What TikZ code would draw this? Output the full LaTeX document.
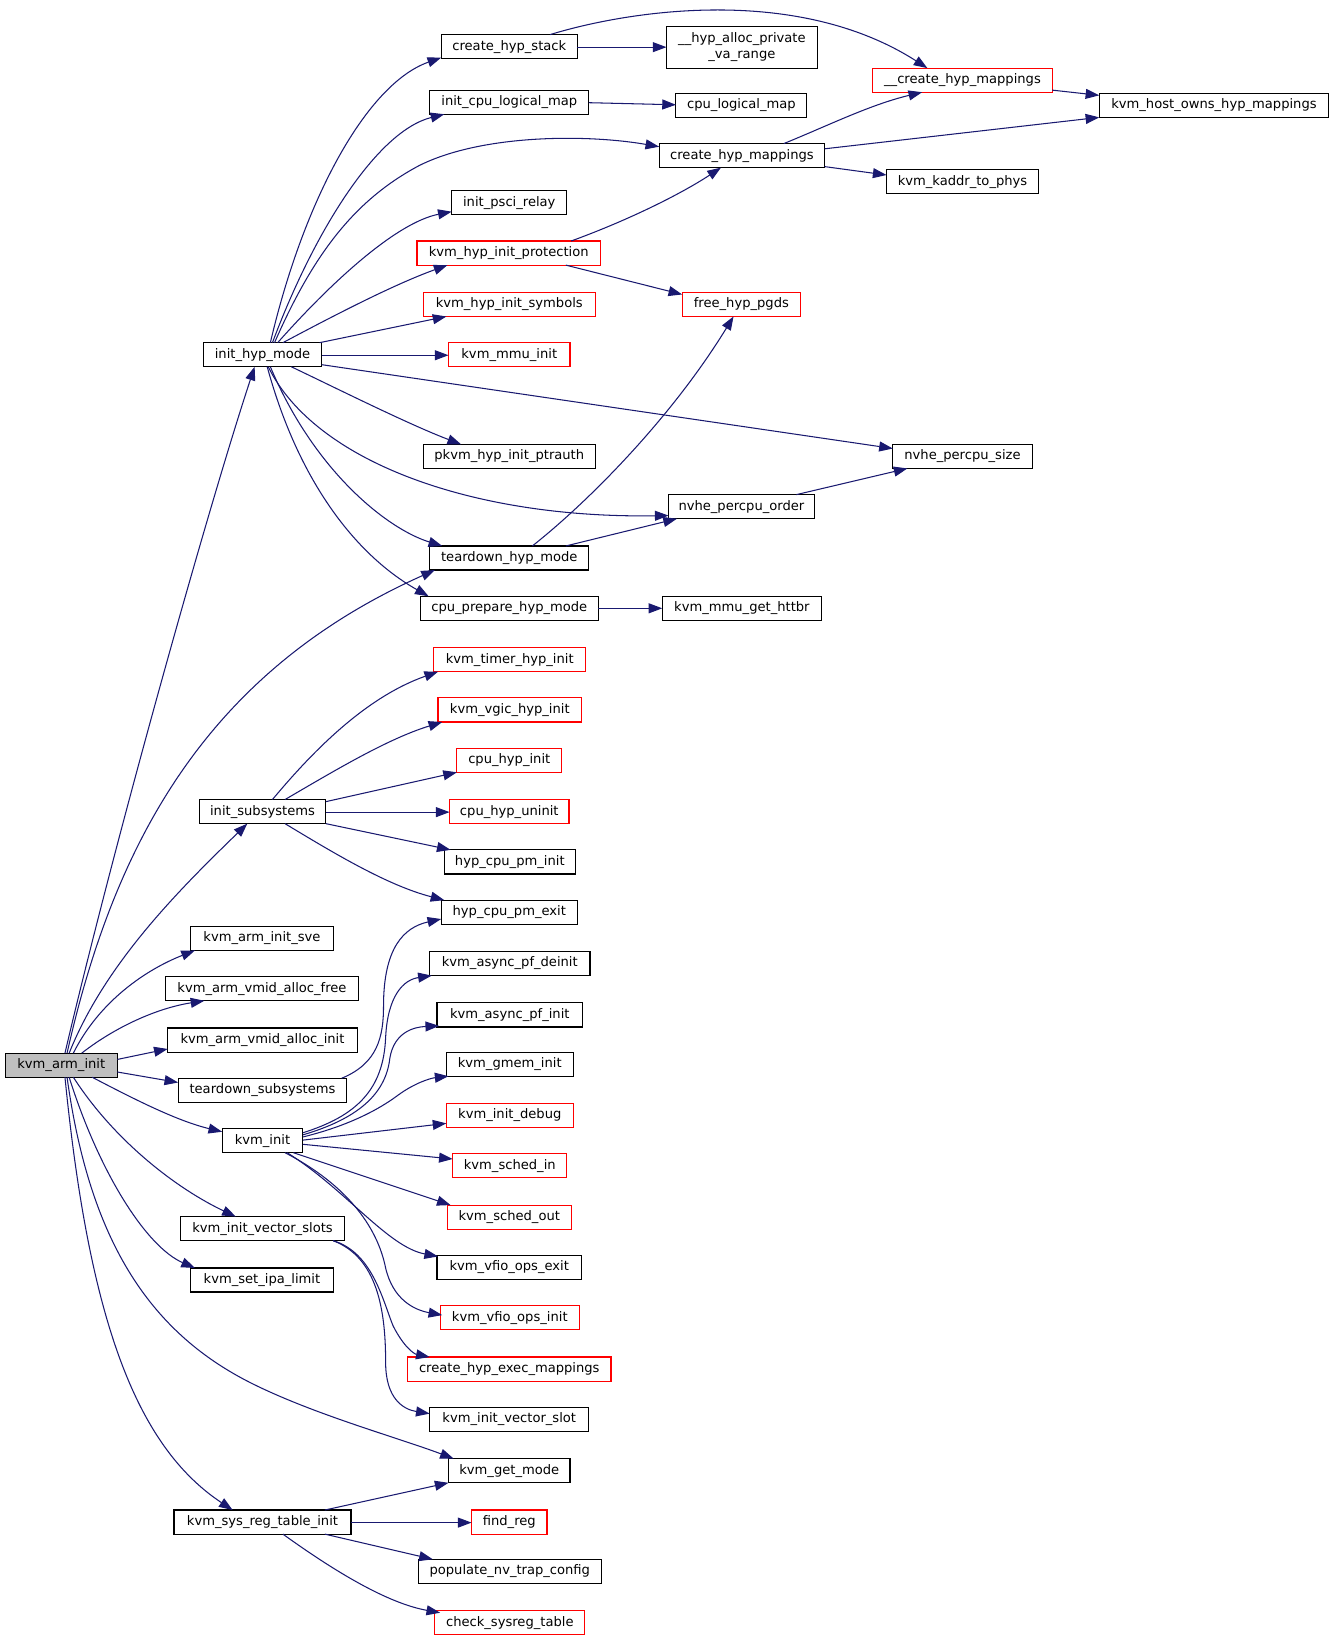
\documentclass[tikz,border=0pt]{standalone}
\usepackage{fontspec}
\setmainfont{DejaVu Sans}
\usetikzlibrary{arrows.meta,calc}
\definecolor{edgeblue}{RGB}{25,25,112}
\definecolor{boxred}{RGB}{255,0,0}
\definecolor{boxgray}{RGB}{191,191,191}
\newcommand{\fsz}{\fontsize{12.5}{14.5}\selectfont}
\tikzset{
  box/.style={draw=black, line width=1.1pt, inner sep=0pt, outer sep=0pt, minimum height=23pt, font=\fsz, anchor=north west, align=center},
  rbox/.style={box, draw=boxred},
  edge/.style={draw=edgeblue, line width=1pt, -{Triangle[length=13pt,width=9.5pt]}},
}
\begin{document}
\begin{tikzpicture}[x=1pt,y=-1pt]
\fill[white] (0,0) rectangle (1272,1566);
\useasboundingbox (0,0) rectangle (1272,1566);
% column 1
\node[box, fill=boxgray, minimum width=107] (kai) at (5,1005) {kvm\_arm\_init};
% column 2
\node[box, minimum width=113] (ihm) at (194,327) {init\_hyp\_mode};
\node[box, minimum width=121] (isub) at (190,763) {init\_subsystems};
\node[box, minimum width=136] (sve) at (182,884) {kvm\_arm\_init\_sve};
\node[box, minimum width=184] (vfree) at (158,932) {kvm\_arm\_vmid\_alloc\_free};
\node[box, minimum width=181] (vinit) at (160,981) {kvm\_arm\_vmid\_alloc\_init};
\node[box, minimum width=161] (tsub) at (170,1029) {teardown\_subsystems};
\node[box, minimum width=77] (kinit) at (212,1077) {kvm\_init};
\node[box, minimum width=157] (ivs) at (172,1161) {kvm\_init\_vector\_slots};
\node[box, minimum width=136] (ipa) at (182,1210) {kvm\_set\_ipa\_limit};
\node[box, minimum width=169] (srti) at (166,1441) {kvm\_sys\_reg\_table\_init};
% column 3
\node[box, minimum width=130] (chs) at (421,33) {create\_hyp\_stack};
\node[box, minimum width=152] (icl) at (410,86) {init\_cpu\_logical\_map};
\node[box, minimum width=110] (ipr) at (431,182) {init\_psci\_relay};
\node[rbox, minimum width=175] (hip) at (398,230) {kvm\_hyp\_init\_protection};
\node[rbox, minimum width=164] (his) at (404,279) {kvm\_hyp\_init\_symbols};
\node[rbox, minimum width=116] (mmu) at (428,327) {kvm\_mmu\_init};
\node[box, minimum width=164] (ptr) at (404,424) {pkvm\_hyp\_init\_ptrauth};
\node[box, minimum width=152] (thm) at (410,521) {teardown\_hyp\_mode};
\node[box, minimum width=170] (cph) at (401,569) {cpu\_prepare\_hyp\_mode};
\node[rbox, minimum width=145] (thi) at (414,618) {kvm\_timer\_hyp\_init};
\node[rbox, minimum width=137] (vgi) at (418,666) {kvm\_vgic\_hyp\_init};
\node[rbox, minimum width=100] (chi) at (436,714) {cpu\_hyp\_init};
\node[rbox, minimum width=114] (chu) at (429,763) {cpu\_hyp\_uninit};
\node[box, minimum width=125] (pmi) at (424,811) {hyp\_cpu\_pm\_init};
\node[box, minimum width=130] (pme) at (421,859) {hyp\_cpu\_pm\_exit};
\node[box, minimum width=153] (apd) at (410,908) {kvm\_async\_pf\_deinit};
\node[box, minimum width=139] (api) at (417,957) {kvm\_async\_pf\_init};
\node[box, minimum width=121] (gmi) at (426,1004) {kvm\_gmem\_init};
\node[rbox, minimum width=121] (idb) at (426,1053) {kvm\_init\_debug};
\node[rbox, minimum width=109] (sin) at (432,1101) {kvm\_sched\_in};
\node[rbox, minimum width=118] (sou) at (427,1150) {kvm\_sched\_out};
\node[box, minimum width=138] (vfe) at (417,1198) {kvm\_vfio\_ops\_exit};
\node[rbox, minimum width=133] (vfi) at (420,1246) {kvm\_vfio\_ops\_init};
\node[rbox, minimum width=194] (chem) at (389,1295) {create\_hyp\_exec\_mappings};
\node[box, minimum width=152] (ivsl) at (410,1343) {kvm\_init\_vector\_slot};
\node[box, minimum width=116] (gm) at (428,1392) {kvm\_get\_mode};
\node[rbox, minimum width=72] (fr) at (450,1441) {find\_reg};
\node[box, minimum width=175] (pnv) at (399,1488) {populate\_nv\_trap\_config};
\node[rbox, minimum width=143] (csr) at (415,1537) {check\_sysreg\_table};
% column 4
\node[box, minimum width=144, minimum height=40] (hap) at (636,25) {\_\_hyp\_alloc\_private\\\_va\_range};
\node[box, minimum width=125] (clm) at (645,89) {cpu\_logical\_map};
\node[box, minimum width=158] (chm) at (629,137) {create\_hyp\_mappings};
\node[rbox, minimum width=113] (fhp) at (651,279) {free\_hyp\_pgds};
\node[box, minimum width=139] (npo) at (638,472) {nvhe\_percpu\_order};
\node[box, minimum width=152] (mgh) at (632,569) {kvm\_mmu\_get\_httbr};
% column 5
\node[rbox, minimum width=171] (uchm) at (833,65) {\_\_create\_hyp\_mappings};
\node[box, minimum width=145] (kkp) at (846,162) {kvm\_kaddr\_to\_phys};
\node[box, minimum width=133] (nps) at (852,424) {nvhe\_percpu\_size};
% column 6
\node[box, minimum width=219] (khm) at (1049,89) {kvm\_host\_owns\_hyp\_mappings};

% edges from kvm_arm_init
\draw[edge] ($(kai.north west)+(57,0)$) .. controls (110,800) and (200,480) .. ($(ihm.north west)+(49,23)$);
\draw[edge] ($(kai.north west)+(59,0)$) .. controls (110,800) and (200,640) .. ($(thm.north west)+(5,23)$);
\draw[edge] ($(kai.north west)+(61,0)$) .. controls (100,920) and (170,850) .. ($(isub.north west)+(46,23)$);
\draw[edge] ($(kai.north west)+(65,0)$) .. controls (95,955) and (140,925) .. ($(sve.north west)+(4,23)$);
\draw[edge] ($(kai.north west)+(73,0)$) .. controls (110,980) and (150,962) .. ($(vfree.north west)+(37,23)$);
\draw[edge] ($(kai.north west)+(107,6)$) -- ($(vinit.north west)+(0,20)$);
\draw[edge] ($(kai.north west)+(107,18)$) -- ($(tsub.north west)+(0,4)$);
\draw[edge] ($(kai.north west)+(83,23)$) .. controls (130,1050) and (170,1070) .. ($(kinit.north west)+(0,3)$);
\draw[edge] ($(kai.north west)+(65,23)$) .. controls (110,1090) and (170,1135) .. ($(ivs.north west)+(53,0)$);
\draw[edge] ($(kai.north west)+(61,23)$) .. controls (95,1120) and (140,1190) .. ($(ipa.north west)+(4,0)$);
\draw[edge] ($(kai.north west)+(59,23)$) .. controls (85,1180) and (140,1270) .. (240,1320) .. controls (300,1350) and (380,1372) .. ($(gm.north west)+(5,0)$);
\draw[edge] ($(kai.north west)+(57,23)$) .. controls (85,1260) and (130,1380) .. ($(srti.north west)+(56,0)$);

% edges from init_hyp_mode
\draw[edge] ($(ihm.north west)+(64,0)$) .. controls (290,190) and (350,80) .. ($(chs.north west)+(0,22)$);
\draw[edge] ($(ihm.north west)+(66,0)$) .. controls (300,220) and (360,125) .. ($(icl.north west)+(14,23)$);
\draw[edge] ($(ihm.north west)+(68,0)$) .. controls (300,240) and (340,190) .. (400,158) .. controls (460,128) and (560,128) .. ($(chm.north west)+(0,3)$);
\draw[edge] ($(ihm.north west)+(71,0)$) .. controls (320,265) and (380,212) .. ($(ipr.north west)+(0,20)$);
\draw[edge] ($(ihm.north west)+(76,0)$) .. controls (330,295) and (380,270) .. ($(hip.north west)+(29,23)$);
\draw[edge] ($(ihm.north west)+(111,0)$) -- ($(his.north west)+(22,23)$);
\draw[edge] ($(ihm.north west)+(113,12)$) -- ($(mmu.north west)+(0,12)$);
\draw[edge] ($(ihm.north west)+(84,23)$) .. controls (320,370) and (390,405) .. ($(ptr.north west)+(36,0)$);
\draw[edge] ($(ihm.north west)+(113,21)$) -- ($(nps.north west)+(0,4)$);
\draw[edge] ($(ihm.north west)+(62,23)$) .. controls (300,440) and (450,495) .. ($(npo.north west)+(0,20)$);
\draw[edge] ($(ihm.north west)+(64,23)$) .. controls (300,450) and (370,505) .. ($(thm.north west)+(12,0)$);
\draw[edge] ($(ihm.north west)+(61,23)$) .. controls (285,460) and (340,530) .. ($(cph.north west)+(8,0)$);

% column 3 to 4/5/6
\draw[edge] ($(chs.north west)+(130,12)$) -- ($(hap.north west)+(0,20)$);
\draw[edge] ($(chs.north west)+(104,0)$) .. controls (600,10) and (760,-15) .. ($(uchm.north west)+(52,0)$);
\draw[edge] ($(icl.north west)+(152,12)$) -- ($(clm.north west)+(0,11)$);
\draw[edge] ($(chm.north west)+(119,0)$) .. controls (790,120) and (830,100) .. ($(uchm.north west)+(47,23)$);
\draw[edge] ($(chm.north west)+(158,5)$) -- ($(khm.north west)+(0,23)$);
\draw[edge] ($(chm.north west)+(158,22)$) -- ($(kkp.north west)+(0,5)$);
\draw[edge] ($(uchm.north west)+(171,21)$) -- ($(khm.north west)+(0,2)$);
\draw[edge] ($(hip.north west)+(147,0)$) .. controls (600,210) and (650,185) .. ($(chm.north west)+(59,23)$);
\draw[edge] ($(hip.north west)+(142,23)$) -- ($(fhp.north west)+(0,2)$);
\draw[edge] ($(thm.north west)+(98,0)$) .. controls (560,480) and (640,400) .. ($(fhp.north west)+(49,23)$);
\draw[edge] ($(thm.north west)+(130,0)$) -- ($(npo.north west)+(8,23)$);
\draw[edge] ($(npo.north west)+(122,0)$) -- ($(nps.north west)+(14,23)$);
\draw[edge] ($(cph.north west)+(170,11.5)$) -- ($(mgh.north west)+(0,11.5)$);

% edges from init_subsystems
\draw[edge] ($(isub.north west)+(70,0)$) .. controls (300,715) and (350,665) .. ($(thi.north west)+(4,23)$);
\draw[edge] ($(isub.north west)+(82,0)$) .. controls (320,735) and (370,705) .. ($(vgi.north west)+(4,23)$);
\draw[edge] ($(isub.north west)+(121,2)$) -- ($(chi.north west)+(0,23)$);
\draw[edge] ($(isub.north west)+(121,12)$) -- ($(chu.north west)+(0,12)$);
\draw[edge] ($(isub.north west)+(121,23)$) -- ($(pmi.north west)+(6,0)$);
\draw[edge] ($(isub.north west)+(82,23)$) .. controls (320,815) and (370,845) .. ($(pme.north west)+(3,0)$);

% teardown_subsystems
\draw[edge] ($(tsub.north west)+(156,0)$) .. controls (360,1015) and (366,990) .. (366,960) .. controls (366,905) and (385,885) .. ($(pme.north west)+(0,18)$);

% edges from kvm_init
\draw[edge] ($(kinit.north west)+(77,4)$) .. controls (340,1065) and (366,1040) .. (368,990) .. controls (370,950) and (385,935) .. ($(apd.north west)+(2,23)$);
\draw[edge] ($(kinit.north west)+(77,6)$) .. controls (340,1068) and (368,1045) .. (372,1010) .. controls (376,985) and (395,980) .. ($(api.north west)+(2,22)$);
\draw[edge] ($(kinit.north west)+(77,8)$) .. controls (330,1075) and (360,1060) .. (380,1045) .. controls (395,1034) and (410,1029) .. ($(gmi.north west)+(2,23)$);
\draw[edge] ($(kinit.north west)+(77,11)$) -- ($(idb.north west)+(0,19)$);
\draw[edge] ($(kinit.north west)+(77,15)$) -- ($(sin.north west)+(0,5)$);
\draw[edge] ($(kinit.north west)+(68,23)$) -- ($(sou.north west)+(3,0)$);
\draw[edge] ($(kinit.north west)+(62,23)$) .. controls (330,1135) and (370,1190) .. ($(vfe.north west)+(1,1)$);
\draw[edge] ($(kinit.north west)+(60,23)$) .. controls (330,1130) and (360,1170) .. (368,1210) .. controls (375,1240) and (395,1250) .. ($(vfi.north west)+(2,9)$);

% edges from kvm_init_vector_slots
\draw[edge] ($(ivs.north west)+(146,23)$) .. controls (355,1195) and (365,1240) .. (375,1265) .. controls (385,1285) and (395,1292) .. ($(chem.north west)+(21,0)$);
\draw[edge] ($(ivs.north west)+(146,23)$) .. controls (360,1200) and (368,1250) .. (368,1300) .. controls (368,1335) and (385,1345) .. ($(ivsl.north west)+(0,6)$);

% edges from kvm_sys_reg_table_init
\draw[edge] ($(srti.north west)+(144,0)$) -- ($(gm.north west)+(0,23)$);
\draw[edge] ($(srti.north west)+(169,12)$) -- ($(fr.north west)+(0,12)$);
\draw[edge] ($(srti.north west)+(144,23)$) -- ($(pnv.north west)+(14,0)$);
\draw[edge] ($(srti.north west)+(104,23)$) .. controls (320,1500) and (370,1530) .. ($(csr.north west)+(5,2)$);
\end{tikzpicture}
\end{document}
